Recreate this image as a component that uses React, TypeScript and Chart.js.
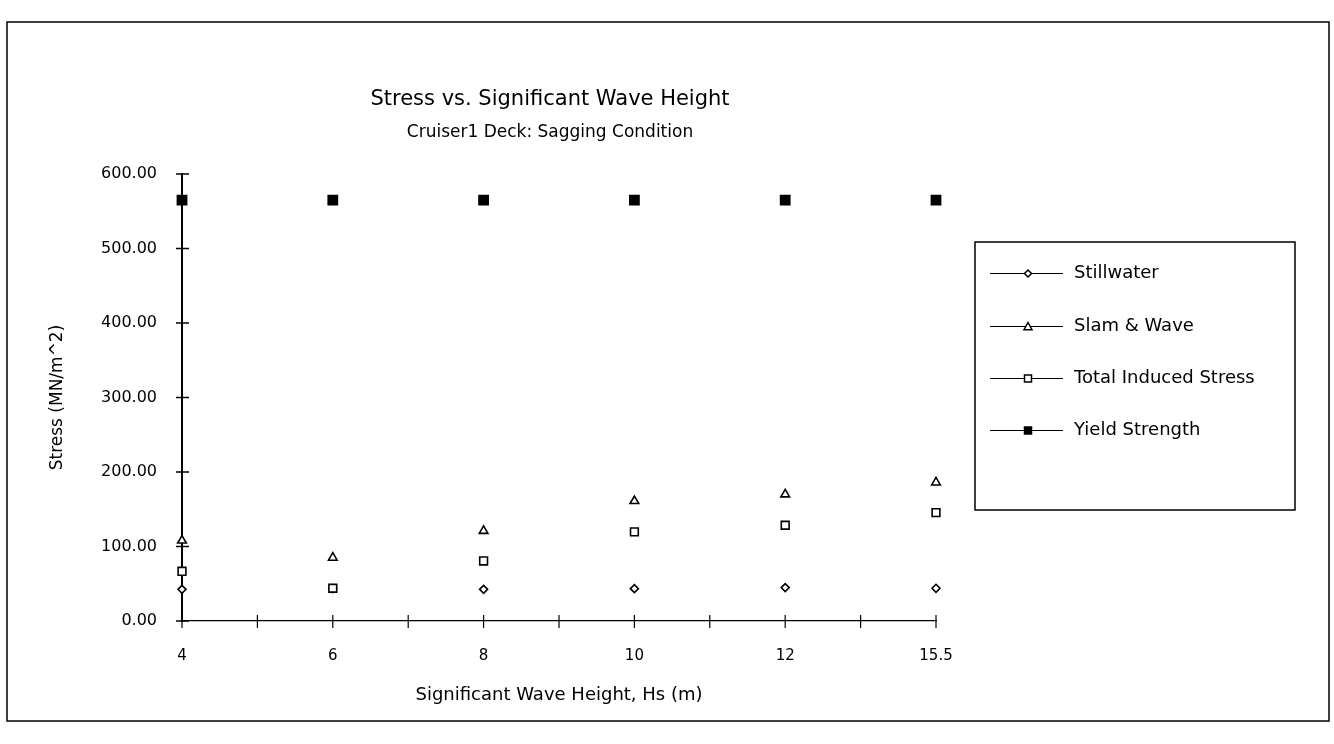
import React, { useEffect, useRef } from 'react';
import { Chart, registerables } from 'chart.js';

Chart.register(...registerables);

const categories = ['4', '6', '8', '10', '12', '15.5'];
const stillwater = [42.5, 43.5, 42.5, 43.4, 44.8, 43.9];
const slamWave = [108, 85, 121, 161, 170, 186];
const totalInduced = [66.7, 44, 80.6, 119.6, 128.5, 145.5];
const yieldStrength = [565, 565, 565, 565, 565, 565];
const yTickValues = [0, 100, 200, 300, 400, 500, 600];
const seriesNames = ['Stillwater', 'Slam & Wave', 'Total Induced Stress', 'Yield Strength'];
const titleText = 'Stress vs. Significant Wave Height';
const subtitleText = 'Cruiser1 Deck: Sagging Condition';
const xTitle = 'Significant Wave Height, Hs (m)';
const yTitle = 'Stress (MN/m^2)';

const FONT = "'DejaVu Sans', sans-serif";

function drawMarker(ctx: CanvasRenderingContext2D, kind: string, x: number, y: number, r: number) {
  ctx.save();
  ctx.lineWidth = 1.5;
  ctx.strokeStyle = '#000';
  ctx.fillStyle = kind === 'filled' ? '#000' : '#fff';
  ctx.beginPath();
  if (kind === 'diamond') {
    ctx.moveTo(x, y - r);
    ctx.lineTo(x + r, y);
    ctx.lineTo(x, y + r);
    ctx.lineTo(x - r, y);
    ctx.closePath();
  } else if (kind === 'triangle') {
    ctx.moveTo(x, y - r);
    ctx.lineTo(x + r, y + r * 0.8);
    ctx.lineTo(x - r, y + r * 0.8);
    ctx.closePath();
  } else {
    ctx.rect(x - r, y - r, 2 * r, 2 * r);
  }
  ctx.fill();
  ctx.stroke();
  ctx.restore();
}

const decorPlugin = {
  id: 'decor',
  beforeDatasetsDraw(chart: any) {
    const ctx: CanvasRenderingContext2D = chart.ctx;
    const xs = chart.scales.x;
    const ys = chart.scales.y;
    ctx.save();
    ctx.strokeStyle = '#000';
    ctx.lineWidth = 1.5;
    const left = chart.chartArea.left;
    yTickValues.forEach((v) => {
      const y = ys.getPixelForValue(v);
      ctx.beginPath();
      ctx.moveTo(left - 6, y);
      ctx.lineTo(left + 7, y);
      ctx.stroke();
    });
    const bottom = chart.chartArea.bottom;
    ctx.lineWidth = 1.2;
    for (let i = 0; i <= (categories.length - 1) * 2; i++) {
      const x = xs.getPixelForValue(i / 2);
      ctx.beginPath();
      ctx.moveTo(x, bottom - 6);
      ctx.lineTo(x, bottom + 7);
      ctx.stroke();
    }
    ctx.restore();
  },
  afterDraw(chart: any) {
    const ctx: CanvasRenderingContext2D = chart.ctx;
    ctx.save();
    ctx.strokeStyle = '#000';
    ctx.lineWidth = 1.5;
    ctx.strokeRect(7, 22, 1322, 699);
    ctx.fillStyle = '#000';
    ctx.textAlign = 'center';
    ctx.textBaseline = 'middle';
    ctx.font = `21px ${FONT}`;
    ctx.fillText(titleText, 550, 100);
    ctx.font = `17px ${FONT}`;
    ctx.fillText(subtitleText, 550, 133);
    ctx.lineWidth = 1.5;
    ctx.strokeRect(975, 242, 320, 268);
    const kinds = ['diamond', 'triangle', 'square', 'filled'];
    const rows = [273, 326, 378, 430];
    seriesNames.forEach((name, i) => {
      const y = Math.round(rows[i]) + 0.5;
      ctx.beginPath();
      ctx.lineWidth = 1;
      ctx.strokeStyle = '#000';
      ctx.moveTo(990, y);
      ctx.lineTo(1063, y);
      ctx.stroke();
      drawMarker(ctx, kinds[i], 1028, y, i === 1 ? 4 : 3.5);
      ctx.fillStyle = '#000';
      ctx.font = `18px ${FONT}`;
      ctx.textAlign = 'left';
      ctx.textBaseline = 'middle';
      ctx.fillText(name, 1074, y);
    });
    ctx.restore();
  },
};

export default function App() {
  const canvasRef = useRef<HTMLCanvasElement | null>(null);

  useEffect(() => {
    if (!canvasRef.current) return;
    Chart.defaults.font.family = FONT;
    Chart.defaults.color = '#000';
    const common = {
      showLine: false,
      borderColor: '#000',
      pointBorderColor: '#000',
      pointBorderWidth: 1.6,
    };
    const chart = new Chart(canvasRef.current, {
      type: 'line',
      data: {
        labels: categories,
        datasets: [
          {
            ...common,
            label: seriesNames[0],
            data: stillwater,
            pointStyle: 'rectRot',
            pointRadius: 4,
            pointBackgroundColor: '#fff',
            order: 1,
          },
          {
            ...common,
            label: seriesNames[1],
            data: slamWave,
            pointStyle: 'triangle',
            pointRadius: 5,
            pointBackgroundColor: '#fff',
            order: 0,
          },
          {
            ...common,
            label: seriesNames[2],
            data: totalInduced,
            pointStyle: 'rect',
            pointRadius: 5.5,
            pointBackgroundColor: '#fff',
            order: 0,
          },
          {
            ...common,
            label: seriesNames[3],
            data: yieldStrength,
            pointStyle: 'rect',
            pointRadius: 6.5,
            pointBackgroundColor: '#000',
            order: 0,
          },
        ],
      },
      options: {
        animation: false,
        responsive: true,
        maintainAspectRatio: false,
        layout: { padding: { top: 174, right: 398, bottom: 0, left: 0 } },
        plugins: {
          legend: { display: false },
          tooltip: { enabled: false },
          title: { display: false },
        },
        scales: {
          x: {
            type: 'category',
            offset: false,
            grid: { display: false, drawTicks: false },
            border: { display: true, color: '#000', width: 1.2 },
            ticks: { font: { size: 15 }, color: '#000', padding: 26, autoSkip: false, maxRotation: 0 },
            title: {
              display: true,
              text: xTitle,
              font: { size: 18 },
              color: '#000',
              padding: { top: 0, bottom: 38 },
            },
            afterFit: (scale: any) => {
              scale.height = 123;
            },
          },
          y: {
            min: 0,
            max: 600,
            grid: { display: false, drawTicks: false },
            border: { display: true, color: '#000', width: 2 },
            ticks: {
              stepSize: 100,
              font: { size: 16 },
              color: '#000',
              padding: 25,
              callback: (v: any) => Number(v).toFixed(2),
            },
            title: {
              display: true,
              text: yTitle,
              font: { size: 17 },
              color: '#000',
              padding: { top: 47, bottom: 0 },
            },
            afterFit: (scale: any) => {
              scale.width = 182;
            },
          },
        },
      },
      plugins: [decorPlugin],
    });
    return () => chart.destroy();
  }, []);

  return (
    <div style={{ position: 'fixed', left: 0, top: 0, width: 1334, height: 744, background: '#fff' }}>
      <canvas ref={canvasRef} />
    </div>
  );
}
